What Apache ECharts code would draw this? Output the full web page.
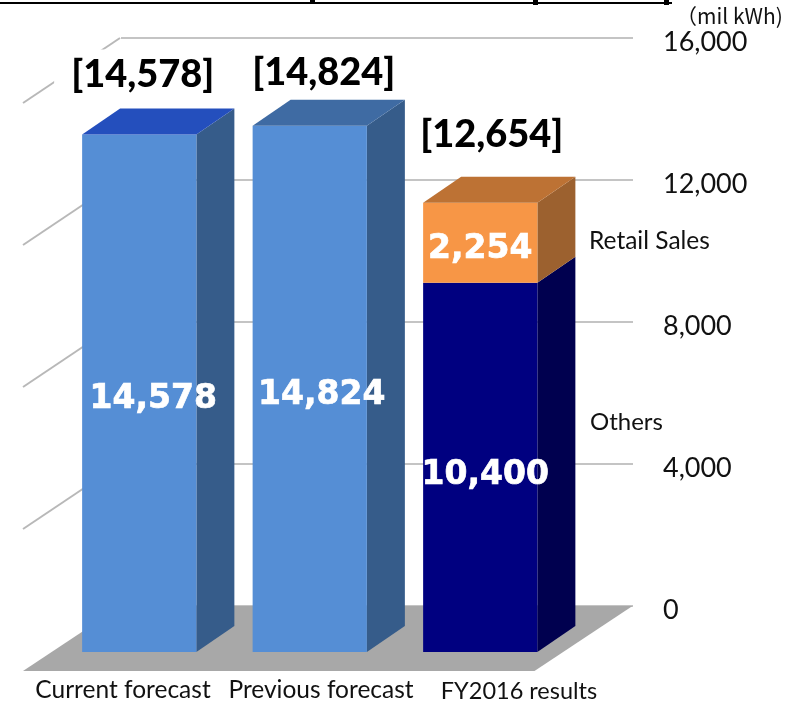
<!DOCTYPE html>
<html>
<head>
<meta charset="utf-8">
<style>
  html, body { margin: 0; padding: 0; background: #fff; }
  #chart { width: 797px; height: 702px; }
</style>
<script src="https://cdn.jsdelivr.net/npm/echarts@6/dist/echarts.min.js"></script>
</head>
<body>
<div id="chart"></div>
<script>
const categories = ["Current forecast", "Previous forecast", "FY2016 results"];
const forecastValues = [14578, 14824, null];
const othersValues = [null, null, 10400];
const retailValues = [null, null, 2254];
const totalValues = [14578, 14824, 12654];
const axisMax = 16000;
const axisStep = 4000;

// fake 3d: how far the faces are pushed away from the bar plane
const depth = { x: 38, y: -26 };
const floorFront = { x: -31, y: 19 };
const floorBack = { x: 67, y: -46 };
const barRatio = 0.67;

const labelFont = "Lato, sans-serif";
const valueFont = "'DejaVu Sans', sans-serif";
const fmt = (v) => v.toLocaleString("en-US");

function segments(values, baseValues) {
  return values
    .map((v, i) => (v == null ? null : [i, baseValues ? baseValues[i] || 0 : 0, v]))
    .filter(Boolean);
}

function barItem(faces, nudges) {
  return function (params, api) {
    const i = api.value(0);
    const base = api.value(1);
    const val = api.value(2);
    const w = api.size([1, 0])[0] * barRatio;
    const b = api.coord([i, base]);
    const t = api.coord([i, base + val]);
    const x0 = b[0] - w / 2;
    const x1 = b[0] + w / 2;
    const children = [
      { type: "polygon", shape: { points: [[x1, b[1]], [x1 + depth.x, b[1] + depth.y], [x1 + depth.x, t[1] + depth.y], [x1, t[1]]] }, style: { fill: faces.side[i] } },
      { type: "rect", shape: { x: x0, y: t[1], width: w, height: b[1] - t[1] }, style: { fill: faces.front[i] } }
    ];
    if (faces.top) {
      children.push({ type: "polygon", shape: { points: [[x0, t[1]], [x0 + depth.x, t[1] + depth.y], [x1 + depth.x, t[1] + depth.y], [x1, t[1]]] }, style: { fill: faces.top[i] } });
    }
    const n = nudges[i];
    children.push({
      type: "text",
      style: {
        x: b[0] + n[0], y: (b[1] + t[1]) / 2 + n[1],
        text: fmt(val), fill: "#fff", stroke: "#fff", lineWidth: 0.7,
        align: "center", verticalAlign: "middle",
        font: "bold 33px " + valueFont
      }
    });
    return { type: "group", children: children };
  };
}

const option = {
  animation: false,
  backgroundColor: "#fff",
  grid: [
    { left: 54, top: 84, width: 511.5, height: 568 },
    { left: 121, top: 38, width: 512, height: 568 },
    { left: 24, top: 672, width: 594, height: 1 },
    // tick labels sit a little under their lines, so they get their own grid
    { left: 121, top: 42, width: 512, height: 568 }
  ],
  xAxis: [
    { type: "category", gridIndex: 0, data: categories, show: false },
    { type: "category", gridIndex: 1, data: categories, show: false },
    {
      type: "category", gridIndex: 2, data: categories,
      axisLine: { show: false }, axisTick: { show: false },
      axisLabel: {
        interval: 0, margin: 5, color: "#111",
        formatter: (v, i) => (i === 2 ? "{low|" + v + "}" : "{std|" + v + "}"),
        rich: {
          std: { fontFamily: labelFont, fontSize: 24.5, color: "#111" },
          low: { fontFamily: labelFont, fontSize: 23.5, color: "#111", padding: [2, 0, 0, 0] }
        }
      }
    },
    { type: "category", gridIndex: 3, data: categories, show: false }
  ],
  yAxis: [
    { type: "value", gridIndex: 0, min: 0, max: axisMax, interval: axisStep, show: false },
    {
      type: "value", gridIndex: 1, min: 0, max: axisMax, interval: axisStep,
      axisLine: { show: false }, axisTick: { show: false }, axisLabel: { show: false },
      splitLine: { lineStyle: { color: "#c4c4c4", width: 2 } }
    },
    { type: "value", gridIndex: 2, show: false },
    {
      type: "value", gridIndex: 3, min: 0, max: axisMax, interval: axisStep, position: "right",
      axisLine: { show: false }, axisTick: { show: false }, splitLine: { show: false },
      axisLabel: { margin: 30, fontFamily: labelFont, fontSize: 27, color: "#111", formatter: fmt }
    }
  ],
  graphic: [
    { type: "rect", left: 0, top: 2, shape: { width: 672, height: 2 }, style: { fill: "#000" } },
    // bits of the cropped title that poke below its rule
    { type: "rect", left: 310, top: 0, shape: { width: 5, height: 3 }, style: { fill: "#000" } },
    { type: "rect", left: 533, top: 0, shape: { width: 5, height: 5 }, style: { fill: "#000" } },
    { type: "rect", left: 664, top: 0, shape: { width: 5, height: 5 }, style: { fill: "#000" } },
    { type: "text", left: 676, top: 6, style: { text: "（mil kWh)", font: "21px 'Noto Sans CJK JP'", fill: "#111" } },
    { type: "text", left: 589, top: 229, style: { text: "Retail Sales", font: "24.5px " + labelFont, fill: "#111" } },
    { type: "text", left: 590, top: 410, style: { text: "Others", font: "24px " + labelFont, fill: "#111" } }
  ],
  series: [
    {
      // floor
      type: "custom", xAxisIndex: 0, yAxisIndex: 0, silent: true, clip: false, z: 2,
      data: [[0]],
      renderItem: function (params, api) {
        const o = api.coord([0, 0]);
        const half = api.size([1, 0])[0] / 2;
        const l = o[0] - half;
        const r = l + half * 2 * categories.length;
        return {
          type: "polygon",
          shape: { points: [
            [l + floorFront.x, o[1] + floorFront.y], [r + floorFront.x, o[1] + floorFront.y],
            [r + floorBack.x, o[1] + floorBack.y], [l + floorBack.x, o[1] + floorBack.y]
          ] },
          style: { fill: "#a8a8a8" }
        };
      }
    },
    {
      // side wall gridlines, running toward the viewer from the back wall
      type: "custom", xAxisIndex: 0, yAxisIndex: 0, silent: true, clip: false, z: 2,
      data: [[4000], [8000], [12000], [16000]],
      renderItem: function (params, api) {
        const p = api.coord([0, api.value(0)]);
        const l = p[0] - api.size([1, 0])[0] / 2;
        return {
          type: "line",
          shape: { x1: l + floorFront.x, y1: p[1] + floorFront.y, x2: l + floorBack.x - 1, y2: p[1] + floorBack.y },
          style: { stroke: "#b8b8b8", lineWidth: 2 }
        };
      }
    },
    {
      type: "custom", xAxisIndex: 0, yAxisIndex: 0, silent: true, clip: false, z: 3,
      data: segments(forecastValues),
      renderItem: barItem(
        { front: ["#558ed5", "#558ed5"], side: ["#365c8a", "#365c8a"], top: ["#244fbd", "#3f6ba3"] },
        [[14, 6], [12, 7]]
      )
    },
    {
      type: "custom", xAxisIndex: 0, yAxisIndex: 0, silent: true, clip: false, z: 3,
      data: segments(othersValues),
      renderItem: barItem(
        { front: [null, null, "#000080"], side: [null, null, "#00004f"] },
        [null, null, [5, 8]]
      )
    },
    {
      type: "custom", xAxisIndex: 0, yAxisIndex: 0, silent: true, clip: false, z: 4,
      data: segments(retailValues, othersValues),
      renderItem: barItem(
        { front: [null, null, "#f79646"], side: [null, null, "#9c612f"], top: [null, null, "#bd7234"] },
        [null, null, [0, 7]]
      )
    },
    {
      // bracketed totals, placed by hand over the bars like the original slide
      type: "custom", xAxisIndex: 0, yAxisIndex: 0, silent: true, clip: false, z: 5,
      data: totalValues.map((v, i) => [i, v]),
      renderItem: function (params, api) {
        const i = api.value(0);
        const p = api.coord([i, api.value(1)]);
        const nudge = [[-4, -60], [14, -53], [11.5, -68]][i];
        const pad = [[6, 2, 6, 17], [6, 2, 6, 2], [6, 2, 6, 2]][i];
        return {
          type: "text",
          style: {
            x: p[0] + nudge[0], y: p[1] + nudge[1],
            text: "[" + fmt(api.value(1)) + "]", align: "center", verticalAlign: "middle",
            font: "900 38px " + labelFont, fill: "#000",
            backgroundColor: "#fff", padding: pad
          }
        };
      }
    }
  ]
};

const myChart = echarts.init(document.getElementById("chart"));
myChart.setOption(option);
</script>
</body>
</html>
